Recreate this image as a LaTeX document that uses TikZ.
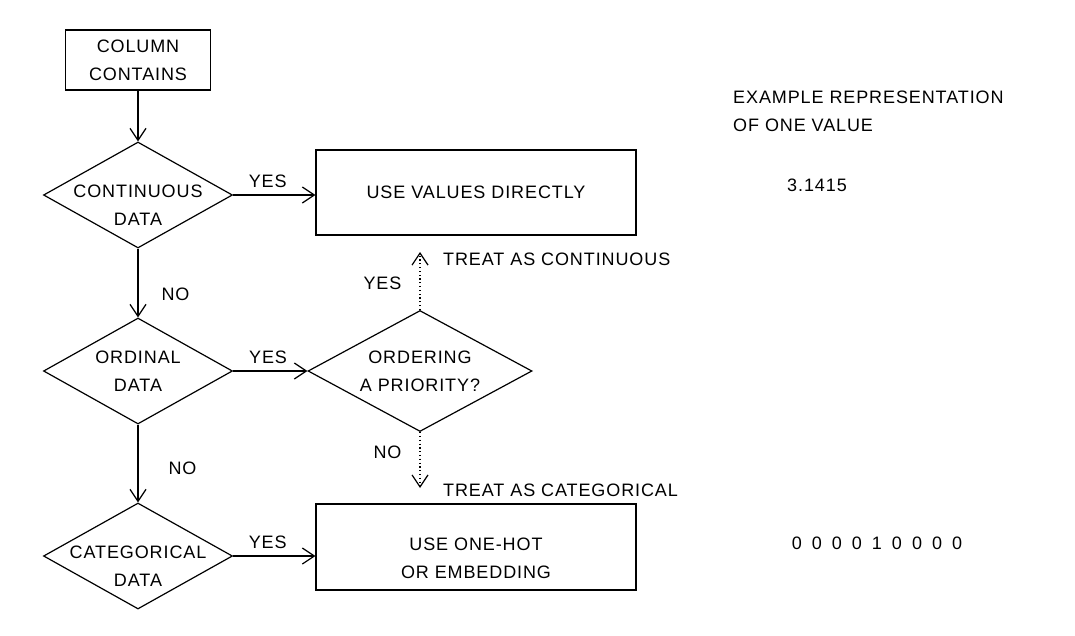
\documentclass[tikz,border=0pt]{standalone}
\usepackage{fontspec}
\setmainfont{Liberation Sans}[LetterSpace=5]
\usetikzlibrary{arrows.meta,shapes.geometric,positioning,calc}

\tikzset{
    txt/.style={font=\fontsize{18}{28}\selectfont, align=center},
    box/.style={txt, draw, line width=1.2pt, rectangle, inner sep=0pt},
    decide/.style={txt, draw, line width=1.2pt, diamond, aspect=1.78, inner sep=-12pt,
        minimum width=189pt, minimum height=106pt},
    arr/.style={line width=1.2pt, -{Straight Barb[length=12pt,width=16pt]}},
    dotarr/.style={arr, dash pattern=on 1.2pt off 2.6pt},
    lbl/.style={txt, inner sep=1pt},
}

\begin{document}
\begin{tikzpicture}[x=1pt, y=-1pt]
    \useasboundingbox (0,0) rectangle (1075,635);

    % Boxes
    \node[box, minimum width=145pt, minimum height=60pt] (contains) at (138,60) {COLUMN\\CONTAINS};
    \node[box, minimum width=320pt, minimum height=85pt] (direct) at (476,192.5) {USE VALUES DIRECTLY};
    \node[box, minimum width=320pt, minimum height=86pt] (onehot) at (476,547) {\rule{0pt}{35pt}USE ONE-HOT\\OR EMBEDDING};

    % Decisions
    \node[decide] (cont) at (138,195) {\rule{0pt}{33pt}CONTINUOUS\\DATA};
    \node[decide] (ordinal) at (138,371) {ORDINAL\\DATA};
    \node[decide] (categ) at (138,556) {\rule{0pt}{33pt}CATEGORICAL\\DATA};
    \node[decide, aspect=1.85, minimum width=224pt, minimum height=121pt] (priority) at (420,371) {ORDERING\\A PRIORITY?};

    % Ends of the dotted arrows
    \coordinate (upend) at (420,252);
    \coordinate (downend) at (420,488);

    % Flow
    \draw[arr] (contains) -- (cont);
    \draw[arr] (cont) -- node[lbl, pos=0.66, right=22pt] {NO} (ordinal);
    \draw[arr] (ordinal) -- node[lbl, pos=0.56, right=29pt] {NO} (categ);
    \draw[arr] (cont.east) -- node[lbl, pos=0.42, above=6pt] {YES} (cont.east -| direct.west);
    \draw[arr] (ordinal) -- node[lbl, pos=0.47, above=6pt] {YES} (priority);
    \draw[arr] (categ.east) -- node[lbl, pos=0.42, above=6pt] {YES} (categ.east -| onehot.west);

    % Ordering choice
    \draw[dotarr] (priority) -- node[lbl, pos=0.46, left=17pt] {YES} (upend);
    \draw[dotarr] (priority) -- node[lbl, pos=0.36, left=17pt] {NO} (downend);
    \node[lbl, anchor=west] (tcont) at (442,259) {TREAT AS CONTINUOUS};
    \node[lbl, anchor=west] (tcat) at (442,490) {TREAT AS CATEGORICAL};

    % Example values
    \node[lbl, anchor=west, align=left] (exhead) at (732,111) {EXAMPLE REPRESENTATION\\OF ONE VALUE};
    \node[lbl] (exnum) at (817,185) {3.1415};
    \node[lbl, font={\fontsize{18}{28}\selectfont\spaceskip=10pt\relax}] (exvec) at (877,543) {0 0 0 0 1 0 0 0 0};
\end{tikzpicture}
\end{document}
